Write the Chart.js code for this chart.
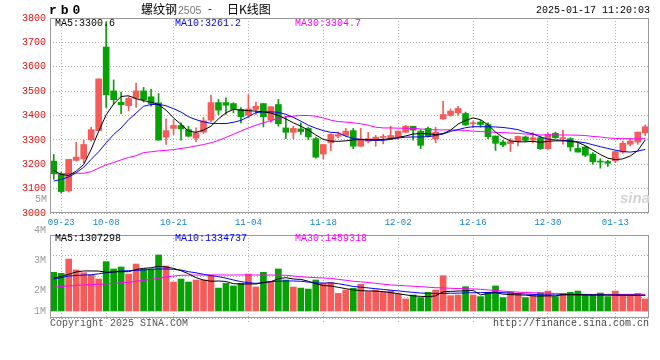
<!DOCTYPE html>
<html>
<head>
<meta charset="utf-8">
<script src="https://cdn.jsdelivr.net/npm/chart.js@4.4.1/dist/chart.umd.min.js"></script>
<style>
  body { margin: 0; background: #fff; }
  #wrap { position: relative; width: 660px; height: 360px; overflow: hidden; font-family: "Liberation Mono", "DejaVu Sans Mono", monospace; font-size: 10px; }
  canvas { position: absolute; left: 0; }
  .t { position: absolute; white-space: pre; line-height: 10px; }
  .cjk { font-family: "Noto Sans CJK SC", sans-serif; font-size: 12px; line-height: 12px; }
</style>
</head>
<body>
<div id="wrap">
  <canvas id="kChart" width="660" height="232" style="top:0"></canvas>
  <canvas id="volChart" width="660" height="138" style="top:222px"></canvas>

  <div class="t" style="left:49px;top:6px;font-weight:bold;font-size:13px;letter-spacing:4px">rb0</div>
  <div class="t cjk" style="left:141px;top:3px">螺纹钢</div>
  <div class="t" style="left:178px;top:5px;color:#777;font-family:'Liberation Sans',sans-serif;font-size:10.5px">2505</div>
  <div class="t" style="left:207px;top:5px">-</div>
  <div class="t cjk" style="left:227px;top:3px">日K线图</div>
  <div class="t" style="left:536px;top:6px">2025-01-17 11:20:03</div>

  <div class="t" style="left:55px;top:19px;color:#000">MA5:3300.6</div>
  <div class="t" style="left:175px;top:19px;color:#0000ff">MA10:3261.2</div>
  <div class="t" style="left:295px;top:19px;color:#ff00ff">MA30:3304.7</div>

  <div class="t" style="left:35px;top:195px;color:#999">5M</div>
  <div class="t" style="left:620px;top:190px;color:#d4d4d4;font-family:'Liberation Sans',sans-serif;font-style:italic;font-weight:bold;font-size:15px;line-height:15px">sina</div>

  <div class="t" style="left:55px;top:234px;color:#000">MA5:1307298</div>
  <div class="t" style="left:175px;top:234px;color:#0000ff">MA10:1334737</div>
  <div class="t" style="left:295px;top:234px;color:#ff00ff">MA30:1459318</div>

  <div class="t" style="left:50px;top:319px;color:#555">Copyright 2025 SINA.COM</div>
  <div class="t" style="left:493px;top:319px;color:#444">http://finance.sina.com.cn</div>
</div>
<script>
// trading days, 2024-09-20 .. 2025-01-17
const dates = [
  '09-20','09-23','09-24','09-25','09-26','09-27','09-30',
  '10-08','10-09','10-10','10-11','10-14','10-15','10-16','10-17','10-18','10-21','10-22','10-23','10-24','10-25','10-28','10-29','10-30','10-31',
  '11-01','11-04','11-05','11-06','11-07','11-08','11-11','11-12','11-13','11-14','11-15','11-18','11-19','11-20','11-21','11-22','11-25','11-26','11-27','11-28','11-29',
  '12-02','12-03','12-04','12-05','12-06','12-09','12-10','12-11','12-12','12-13','12-16','12-17','12-18','12-19','12-20','12-23','12-24','12-25','12-26','12-27','12-30','12-31',
  '01-02','01-03','01-06','01-07','01-08','01-09','01-10','01-13','01-14','01-15','01-16','01-17'
];
const tickDates = ['09-23','10-08','10-21','11-04','11-18','12-02','12-16','12-30','01-13'];

const opens = [
  3213,3158,3091,3216,3222,3300,3338,3681,3501,3454,
  3440,3471,3501,3477,3452,3311,3347,3359,3342,3307,
  3332,3381,3453,3453,3449,3425,3401,3425,3449,3381,
  3445,3349,3331,3345,3347,3305,3242,3288,3315,3318,
  3338,3274,3294,3299,3310,3305,3312,3331,3356,3336,
  3347,3304,3386,3400,3411,3408,3366,3373,3363,3316,
  3291,3284,3293,3312,3299,3309,3264,3327,3305,3305,
  3265,3271,3241,3211,3211,3214,3250,3282,3291,3329
];
const highs = [
  3240,3168,3220,3290,3299,3352,3550,3784,3546,3496,
  3478,3533,3515,3507,3490,3386,3384,3370,3356,3349,
  3392,3484,3466,3473,3452,3432,3486,3455,3449,3436,
  3466,3397,3356,3370,3352,3311,3281,3326,3331,3347,
  3347,3347,3331,3318,3322,3356,3336,3359,3356,3342,
  3352,3352,3458,3427,3438,3414,3377,3380,3370,3316,
  3298,3306,3316,3316,3329,3316,3329,3332,3340,3309,
  3288,3275,3248,3223,3216,3254,3295,3306,3332,3361
];
const lows = [
  3138,3081,3086,3213,3206,3295,3338,3433,3447,3407,
  3420,3433,3455,3438,3299,3281,3322,3299,3312,3292,
  3326,3375,3404,3404,3411,3370,3390,3404,3353,3373,
  3356,3305,3305,3322,3301,3225,3223,3256,3308,3315,
  3264,3274,3288,3274,3284,3301,3301,3329,3299,3264,
  3312,3288,3384,3397,3400,3359,3350,3352,3305,3257,
  3272,3252,3275,3293,3288,3261,3261,3306,3282,3254,
  3250,3231,3200,3184,3191,3207,3245,3275,3282,3318
];
const closes = [
  3161,3088,3220,3229,3281,3342,3550,3485,3465,3444,
  3470,3501,3465,3449,3299,3338,3359,3345,3315,3329,
  3378,3453,3422,3442,3425,3395,3427,3438,3395,3436,
  3366,3331,3347,3334,3312,3229,3281,3322,3322,3336,
  3274,3304,3305,3311,3311,3318,3336,3356,3340,3278,
  3315,3331,3404,3418,3429,3361,3368,3363,3313,3286,
  3279,3295,3314,3298,3309,3264,3322,3309,3306,3271,
  3250,3237,3210,3209,3204,3252,3286,3295,3332,3354
];
const ma5 = [
  3175,3158,3154,3172,3199,3261,3335,3403,3447,3478,
  3481,3469,3461,3455,3445,3422,3390,3363,3336,3331,
  3340,3356,3386,3411,3425,3422,3420,3418,3415,3410,
  3400,3386,3370,3356,3340,3320,3302,3295,3294,3296,
  3300,3301,3301,3300,3302,3305,3310,3316,3324,3326,
  3325,3322,3326,3340,3365,3380,3390,3383,3362,3332,
  3310,3296,3292,3292,3294,3290,3294,3296,3296,3294,
  3290,3276,3258,3240,3225,3219,3222,3234,3256,3300
];
const ma10 = [
  3131,3138,3148,3165,3188,3220,3251,3288,3322,3349,
  3383,3410,3438,3445,3446,3440,3428,3414,3395,3383,
  3374,3368,3367,3367,3372,3380,3395,3412,3415,3415,
  3413,3405,3392,3377,3360,3348,3338,3331,3329,3315,
  3306,3302,3299,3298,3298,3302,3308,3311,3312,3312,
  3313,3318,3324,3335,3342,3350,3354,3354,3354,3353,
  3351,3347,3342,3331,3325,3312,3303,3300,3298,3296,
  3292,3288,3280,3272,3265,3258,3252,3250,3254,3261
];
const ma30 = [
  3161,3161,3161,3163,3163,3170,3184,3198,3207,3218,
  3228,3235,3248,3251,3255,3257,3260,3265,3269,3275,
  3281,3288,3298,3310,3323,3336,3349,3360,3370,3379,
  3388,3395,3397,3400,3400,3397,3390,3381,3375,3373,
  3370,3366,3360,3352,3349,3349,3348,3348,3347,3345,
  3342,3341,3341,3341,3340,3339,3336,3334,3333,3331,
  3330,3328,3327,3324,3322,3320,3321,3320,3320,3320,
  3319,3318,3314,3312,3308,3306,3305,3305,3304,3305
];

const volumes = [
  3120000,3040000,4190000,3310000,3090000,2900000,2580000,3980000,3390000,3550000,
  2980000,3790000,3390000,3390000,4520000,3630000,2340000,2580000,2340000,2500000,
  2500000,2850000,1850000,2230000,2020000,2230000,2980000,1940000,3120000,2310000,
  3390000,2500000,1940000,1850000,1770000,2500000,2230000,2310000,1420000,1690000,
  1830000,2150000,1560000,1690000,1560000,1640000,1370000,970000,1290000,1080000,
  1510000,1690000,2850000,1240000,1290000,1960000,1290000,1160000,1510000,2020000,
  1080000,1560000,1420000,1080000,1290000,1480000,1610000,1160000,1420000,1510000,
  1610000,1290000,1290000,1450000,1160000,1610000,1290000,1290000,1420000,970000
];
const volMa5 = [
  2650000,2800000,2960000,3150000,3230000,3230000,3220000,3130000,3150000,3170000,
  3170000,3350000,3440000,3490000,3600000,3550000,3440000,3250000,3000000,2690000,
  2500000,2400000,2420000,2380000,2200000,2180000,2180000,2180000,2300000,2370000,
  2600000,2690000,2580000,2550000,2400000,2200000,2050000,2020000,1910000,1800000,
  1700000,1640000,1620000,1600000,1560000,1480000,1400000,1300000,1220000,1180000,
  1160000,1220000,1550000,1580000,1610000,1620000,1660000,1300000,1420000,1480000,
  1360000,1320000,1300000,1280000,1220000,1200000,1220000,1210000,1340000,1340000,
  1320000,1300000,1290000,1290000,1290000,1290000,1280000,1280000,1270000,1260000
];
const volMa10 = [
  2580000,2700000,2820000,2860000,2900000,2920000,3000000,3090000,3150000,3230000,
  3250000,3280000,3300000,3360000,3390000,3390000,3360000,3300000,3170000,3080000,
  2960000,2850000,2770000,2650000,2500000,2370000,2280000,2230000,2280000,2370000,
  2400000,2420000,2420000,2400000,2330000,2280000,2250000,2270000,2200000,2100000,
  1980000,1920000,1860000,1800000,1740000,1680000,1620000,1560000,1500000,1450000,
  1420000,1420000,1420000,1430000,1440000,1460000,1470000,1480000,1490000,1500000,
  1480000,1440000,1400000,1370000,1340000,1310000,1290000,1300000,1290000,1300000,
  1290000,1300000,1310000,1300000,1290000,1290000,1280000,1280000,1270000,1260000
];
const volMa30 = [
  1910000,1980000,2020000,2060000,2100000,2120000,2160000,2180000,2220000,2280000,
  2310000,2400000,2470000,2550000,2630000,2750000,2820000,2880000,2890000,2900000,
  2900000,2910000,2910000,2900000,2900000,2910000,2910000,2900000,2900000,2900000,
  2890000,2880000,2820000,2770000,2720000,2690000,2660000,2630000,2550000,2480000,
  2400000,2350000,2300000,2230000,2160000,2100000,2070000,2030000,2000000,1960000,
  1920000,1880000,1860000,1830000,1810000,1790000,1780000,1750000,1700000,1660000,
  1600000,1560000,1520000,1490000,1470000,1450000,1430000,1410000,1380000,1370000,
  1360000,1340000,1340000,1340000,1340000,1340000,1340000,1340000,1340000,1340000
];
const volTickLabels = ['4M', '3M', '2M', '1M'];

const UP = '#f65b5b';
const DOWN = '#07a007';
const GRID = '#b0b0b0';
const MONO = '"Liberation Mono", "DejaVu Sans Mono", monospace';

const candleColors = closes.map((c, i) => c >= opens[i] ? UP : DOWN);
const isTick = i => tickDates.includes(dates[i]);

// grey box round each plot area
const framePlugin = {
  id: 'frame',
  afterDraw(chart) {
    const { ctx, chartArea: a } = chart;
    ctx.save();
    ctx.strokeStyle = '#999';
    ctx.lineWidth = 1;
    ctx.strokeRect(Math.round(a.left) + 0.5, Math.round(a.top) + 0.5,
      Math.round(a.right - a.left) - 1, Math.round(a.bottom - a.top) - 1);
    ctx.restore();
  }
};

const maLine = (data, color) => ({
  type: 'line', data, borderColor: color, borderWidth: 1,
  pointRadius: 0, tension: 0, order: 0
});

const xGrid = {
  offset: false,
  color: c => isTick(c.index) ? GRID : 'rgba(0,0,0,0)',
  tickBorderDash: [1, 2]
};

new Chart(document.getElementById('kChart'), {
  type: 'bar',
  data: {
    labels: dates,
    datasets: [
      maLine(ma5, '#000000'),
      maLine(ma10, '#0000ff'),
      maLine(ma30, '#ff00ff'),
      {
        data: dates.map((d, i) => [opens[i], closes[i]]),
        backgroundColor: candleColors, barThickness: 6, minBarLength: 1,
        grouped: false, order: 1
      },
      {
        data: dates.map((d, i) => [lows[i], highs[i]]),
        backgroundColor: candleColors, barThickness: 1,
        grouped: false, order: 2
      }
    ]
  },
  options: {
    responsive: false,
    animation: false,
    events: [],
    layout: { padding: { left: 0, right: 11, top: 18, bottom: 0 } },
    plugins: { legend: { display: false }, tooltip: { enabled: false } },
    scales: {
      x: {
        offset: true,
        grid: { ...xGrid, tickLength: 3 },
        border: { display: false, dash: [1, 2] },
        ticks: {
          autoSkip: false, maxRotation: 0, minRotation: 0, padding: 1,
          color: '#1585cc', font: { family: MONO, size: 9 },
          callback: (v, i) => isTick(i) ? dates[i] : ''
        },
        afterFit: s => { s.height = 19; }
      },
      y: {
        min: 3000, max: 3800,
        ticks: {
          stepSize: 100, padding: 4, color: '#e81010', font: { family: MONO, size: 10 },
          callback: v => String(v)
        },
        grid: { color: GRID, drawTicks: false },
        border: { display: false, dash: [1, 2] },
        afterFit: s => { s.width = 50; }
      }
    }
  },
  plugins: [framePlugin]
});

new Chart(document.getElementById('volChart'), {
  type: 'bar',
  data: {
    labels: dates,
    datasets: [
      maLine(volMa5, '#000000'),
      maLine(volMa10, '#0000ff'),
      maLine(volMa30, '#ff00ff'),
      { data: volumes, backgroundColor: candleColors, barThickness: 6, order: 1 }
    ]
  },
  options: {
    responsive: false,
    animation: false,
    events: [],
    layout: { padding: { left: 0, right: 11, top: 13, bottom: 0 } },
    plugins: { legend: { display: false }, tooltip: { enabled: false } },
    scales: {
      x: {
        offset: true,
        grid: { ...xGrid, tickLength: 4 },
        border: { display: false, dash: [1, 2] },
        ticks: { display: false },
        afterFit: s => { s.height = 42; }
      },
      y: {
        min: -565000, max: 6130000,
        ticks: { display: false },
        grid: { color: GRID, drawTicks: false },
        border: { display: false, dash: [1, 2] },
        afterBuildTicks: s => {
          s.ticks = [0, 1, 2, 3, 4].map(i => ({ value: s.max - i * (s.max - s.min) / 4 }));
        },
        afterFit: s => { s.width = 0; }
      },
      yl: {
        position: 'left',
        min: 1.10, max: 3.835,
        grid: { display: false, drawTicks: false },
        border: { display: false },
        ticks: {
          autoSkip: false, padding: 4, color: '#999', font: { family: MONO, size: 10 },
          callback: (v, i) => volTickLabels[i]
        },
        afterBuildTicks: s => { s.ticks = [4, 3, 2, 1.33].map(v => ({ value: v })); },
        afterFit: s => { s.width = 50; }
      }
    }
  },
  plugins: [framePlugin]
});
</script>
</body>
</html>
